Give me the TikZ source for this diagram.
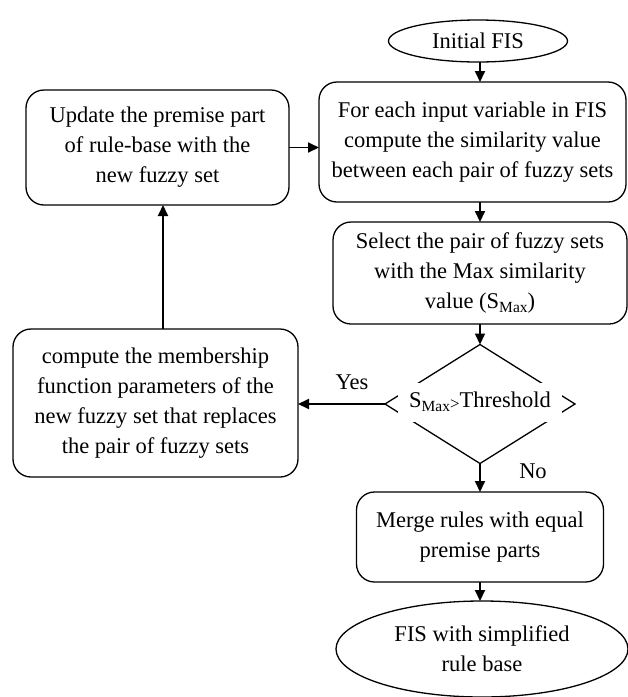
\documentclass[tikz,border=0pt]{standalone}
\usepackage{fontspec}
\setmainfont{Liberation Serif}
\usetikzlibrary{shapes.geometric,arrows.meta}
\newcommand{\smax}{S\raisebox{-0.35ex}{\fontsize{15.5}{15.5}\selectfont Max}}
\begin{document}
\begin{tikzpicture}[x=1pt,y=-1pt,
  font=\fontsize{22.5}{30}\selectfont,
  every node/.style={inner sep=0pt, outer sep=0pt},
  procbox/.style={draw, line width=1.3pt, rounded corners=18pt, align=center},
  term/.style={draw, line width=1.3pt, ellipse, align=center},
  arr/.style={line width=1.9pt, -{Triangle[length=11pt,width=10pt]}}]
\useasboundingbox (0,0) rectangle (628,697);
\node[term, minimum width=179pt, minimum height=42pt] (init) at (478,41) {Initial FIS};
\node[procbox, minimum width=307pt, minimum height=120pt] (b1) at (472.5,142)
  {For each input variable in FIS\\compute the similarity value\\between each pair of fuzzy sets};
\node[procbox, minimum width=294pt, minimum height=102pt] (b2) at (480,273)
  {Select the pair of fuzzy sets\\with the Max similarity\\value (\smax)};
\node[draw, line width=1.3pt, diamond, minimum width=190pt, minimum height=119pt] (dec) at (480,404) {};
\node[fill=white, minimum width=164pt, minimum height=39pt] (dect) at (480,402) {\smax{\fontsize{17}{17}\selectfont\raisebox{-0.2ex}{>}}Threshold};
\node[procbox, minimum width=247pt, minimum height=90pt] (merge) at (480,537)
  {Merge rules with equal\\premise parts};
\node[term, minimum width=292pt, minimum height=96pt] (final) at (482,649)
  {FIS with simplified\\rule base};
\node[procbox, minimum width=263pt, minimum height=115pt] (upd) at (157.5,147.5)
  {Update the premise part\\of rule-base with the\\new fuzzy set};
\node[procbox, minimum width=285pt, minimum height=148pt] (comp) at (155.5,403)
  {compute the membership\\function parameters of the\\new fuzzy set that replaces\\the pair of fuzzy sets};
\node (yes) at (352,382) {Yes};
\node (no) at (533,471) {No};
\draw[arr] ([xshift=2pt]init.south) -- ([xshift=2pt]init.south |- b1.north);
\draw[arr] (b2.north |- b1.south) -- (b2.north);
\draw[arr] (b2.south) -- (dec.north);
\draw[arr] (dec.south) -- (merge.north);
\draw[arr] (merge.south) -- (merge.south |- final.north);
\draw[arr] (dec.west) -- (dec.west -| comp.east);
\draw[arr] ([xshift=5.5pt]upd.south |- comp.north) -- ([xshift=5.5pt]upd.south);
\draw[arr] (upd.east) -- (upd.east -| b1.west);
\end{tikzpicture}
\end{document}
